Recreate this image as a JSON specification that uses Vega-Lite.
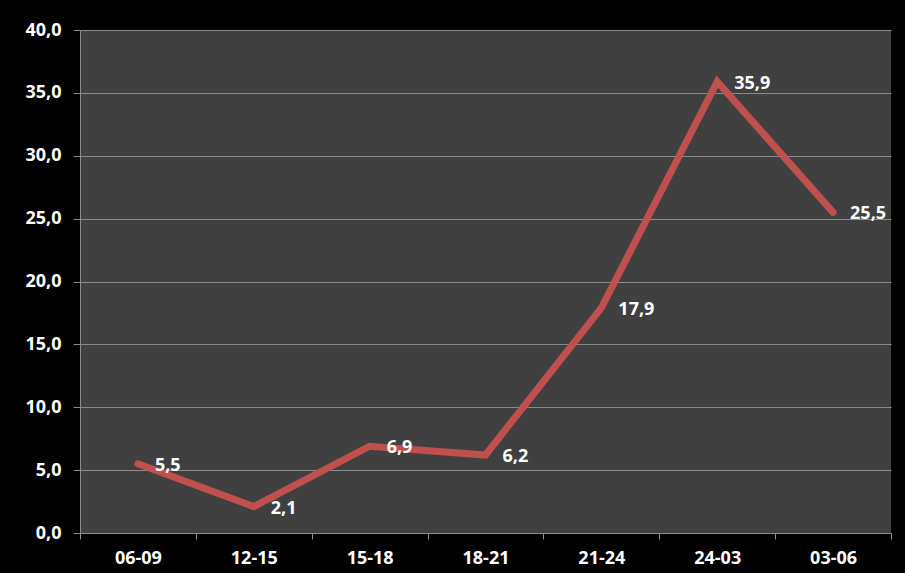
{
  "$schema": "https://vega.github.io/schema/vega-lite/v6.json",
  "width": 811,
  "height": 503,
  "autosize": {"type": "none"},
  "padding": {"left": 80, "top": 30, "right": 14, "bottom": 40},
  "background": "#000000",
  "data": {
    "values": [
      {"period": "06-09", "value": 5.5},
      {"period": "12-15", "value": 2.1},
      {"period": "15-18", "value": 6.9},
      {"period": "18-21", "value": 6.2},
      {"period": "21-24", "value": 17.9},
      {"period": "24-03", "value": 35.9},
      {"period": "03-06", "value": 25.5}
    ]
  },
  "encoding": {
    "x": {
      "field": "period",
      "type": "nominal",
      "sort": null,
      "scale": {"type": "band", "paddingInner": 0, "paddingOuter": 0},
      "axis": {
        "title": null,
        "labelAngle": 0,
        "tickBand": "extent",
        "grid": false,
        "domainColor": "#8c8c8c",
        "tickColor": "#8c8c8c",
        "tickSize": 6,
        "labelPadding": 10,
        "labelColor": "#ffffff",
        "labelFont": "Open Sans",
        "labelFontWeight": "bold",
        "labelFontSize": 18
      }
    },
    "y": {
      "field": "value",
      "type": "quantitative",
      "scale": {"domain": [0, 40], "nice": false},
      "axis": {
        "title": null,
        "values": [0, 5, 10, 15, 20, 25, 30, 35, 40],
        "format": ".1f",
        "grid": true,
        "gridColor": "#8c8c8c",
        "gridWidth": 1,
        "domainColor": "#8c8c8c",
        "tickColor": "#8c8c8c",
        "tickSize": 7,
        "labelPadding": 12,
        "labelColor": "#ffffff",
        "labelFont": "Open Sans",
        "labelFontWeight": "bold",
        "labelFontSize": 18
      }
    }
  },
  "layer": [
    {
      "mark": {"type": "line", "color": "#C0504D", "strokeWidth": 7, "strokeCap": "round", "strokeJoin": "miter"}
    },
    {
      "mark": {"type": "text", "align": "left", "baseline": "middle", "dx": 17, "dy": 2, "color": "#ffffff", "font": "Open Sans", "fontWeight": "bold", "fontSize": 18},
      "encoding": {"text": {"field": "value", "type": "quantitative", "format": ".1f"}}
    }
  ],
  "config": {
    "view": {"fill": "#404040", "stroke": null},
    "locale": {
      "number": {"decimal": ",", "thousands": ".", "grouping": [3], "currency": ["", " €"]}
    }
  }
}
